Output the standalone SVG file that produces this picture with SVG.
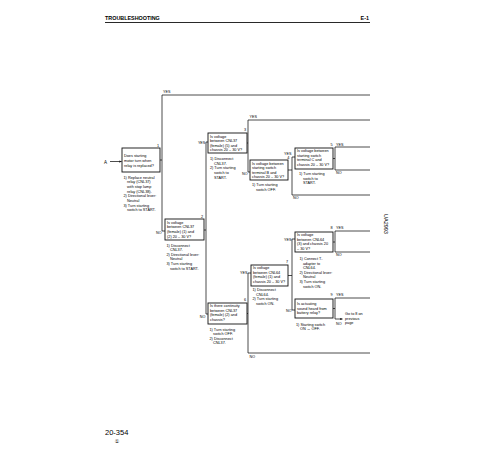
<svg xmlns="http://www.w3.org/2000/svg" width="500" height="450" viewBox="0 0 500 450">
<defs>
<marker id="ah" viewBox="0 0 6 6" refX="6" refY="3" markerWidth="3" markerHeight="3" orient="auto"><path d="M0,0 L6,3 L0,6 z" fill="#111"/></marker>
<style>
.box{fill:#fff;stroke:#111;stroke-width:0.9}
.ln{fill:none;stroke:#111;stroke-width:0.75}
text{font-family:"Liberation Sans",Arial,sans-serif;fill:#000}
.t{font-size:3.8px}
.l{font-size:3.7px}
.e{text-anchor:end}
.h{font-size:5.4px;font-weight:bold}
</style>
</defs>
<rect width="500" height="450" fill="#fff"/>
<g id="header">
<text class="h" x="105" y="20">TROUBLESHOOTING</text>
<text class="h e" x="369" y="20">E-1</text>
<line x1="105" y1="22.5" x2="370" y2="22.5" stroke="#111" stroke-width="0.9"/>
</g>
<g id="connectors" class="ln">
<line x1="110" y1="161.5" x2="121.6" y2="161.5" marker-end="url(#ah)"/>
<path d="M160,160 H162 M162,95 V231 M162,95 H370 M162,231 H165"/>
<path d="M204,230 H206 M206,142 V314 M206,142 H208 M206,314 H208"/>
<path d="M247,143 H248 M248,120 V172 M248,120 H370 M248,172 H250"/>
<path d="M288,170 H292 M292,157 V195 M292,157 H295 M292,195 H370"/>
<path d="M333,158.5 H335 M335,147 V170 M335,147 H370 M335,170 H370"/>
<path d="M247,313.5 H248 M248,273 V353 M248,273 H251 M248,353 H370"/>
<path d="M288,275.5 H292 M292,239 V310 M292,239 H295 M292,310 H295"/>
<path d="M333,242 H335 M335,231 V252 M335,231 H370 M335,252 H370"/>
<path d="M333,308.5 H335 M335,298 V319 M335,298 H370"/>
<line x1="335" y1="319" x2="342.5" y2="319" marker-end="url(#ah)"/>
</g>
<g id="labels">
<text class="l" x="163" y="93">YES</text>
<text class="l e" x="161.5" y="234">NO</text>
<text class="l e" x="205.3" y="143.5">YES</text>
<text class="l e" x="205.3" y="318">NO</text>
<text class="l" x="249.5" y="118">YES</text>
<text class="l e" x="247.5" y="174.5">NO</text>
<text class="l e" x="291.5" y="154.5">YES</text>
<text class="l" x="293" y="199">NO</text>
<text class="l" x="336" y="145.5">YES</text>
<text class="l" x="336" y="174">NO</text>
<text class="l e" x="247.5" y="274.3">YES</text>
<text class="l" x="249.5" y="357.5">NO</text>
<text class="l e" x="291.5" y="240.5">YES</text>
<text class="l e" x="291.5" y="311.5">NO</text>
<text class="l" x="336" y="228.5">YES</text>
<text class="l" x="336" y="256">NO</text>
<text class="l" x="336" y="295.5">YES</text>
<text class="l" x="336" y="324.5">NO</text>
</g>
<g id="start">
<text x="104" y="163.5" font-size="4.5">A</text>
</g>
<g id="n1">
<rect class="box" x="122" y="148" width="38" height="24"/>
<text class="t" x="157" y="146.5">1</text>
<text class="t" x="124" y="157">Does starting</text>
<text class="t" x="124" y="162">motor turn when</text>
<text class="t" x="124" y="167">relay is replaced?</text>
<text class="t" x="123.5" y="178.5">1) Replace neutral</text>
<text class="t" x="127" y="183.2">relay (CNL37)</text>
<text class="t" x="127" y="187.9">with stop lamp</text>
<text class="t" x="127" y="192.6">relay (CNL38).</text>
<text class="t" x="123.5" y="197.3">2) Directional lever:</text>
<text class="t" x="127" y="202">Neutral</text>
<text class="t" x="123.5" y="206.7">3) Turn starting</text>
<text class="t" x="127" y="211.4">switch to START.</text>
</g>
<g id="n2">
<rect class="box" x="165" y="219" width="39" height="21"/>
<text class="t" x="201" y="217.5">2</text>
<text class="t" x="167" y="223.8">Is voltage</text>
<text class="t" x="167" y="228.4">between CNL37</text>
<text class="t" x="167" y="233">(female) (1) and</text>
<text class="t" x="167" y="237.6">(2) 20 – 30 V?</text>
<text class="t" x="166.5" y="246.5">1) Disconnect</text>
<text class="t" x="170" y="251.1">CNL37.</text>
<text class="t" x="166.5" y="255.7">2) Directional lever:</text>
<text class="t" x="170" y="260.3">Neutral</text>
<text class="t" x="166.5" y="264.9">3) Turn starting</text>
<text class="t" x="170" y="269.5">switch to START.</text>
</g>
<g id="n3">
<rect class="box" x="208" y="133" width="39" height="20"/>
<text class="t" x="244" y="131">3</text>
<text class="t" x="210" y="137.5">Is voltage</text>
<text class="t" x="210" y="142">between CNL37</text>
<text class="t" x="210" y="146.5">(female) (5) and</text>
<text class="t" x="210" y="151">chassis 20 – 30 V?</text>
<text class="t" x="210" y="160">1) Disconnect</text>
<text class="t" x="214" y="164.7">CNL37.</text>
<text class="t" x="210" y="169.4">2) Turn starting</text>
<text class="t" x="214" y="174.1">switch to</text>
<text class="t" x="214" y="178.8">START.</text>
</g>
<g id="n4">
<rect class="box" x="250" y="160" width="38" height="20"/>
<text class="t" x="287.3" y="159.2">4</text>
<text class="t" x="252" y="164.5">Is voltage between</text>
<text class="t" x="252" y="169">starting switch</text>
<text class="t" x="252" y="173.5">terminal B and</text>
<text class="t" x="252" y="178">chassis 20 – 30 V?</text>
<text class="t" x="252" y="186">1) Turn starting</text>
<text class="t" x="256" y="190.5">switch OFF.</text>
</g>
<g id="n5">
<rect class="box" x="295" y="148" width="38" height="21"/>
<text class="t" x="330.5" y="145.5">5</text>
<text class="t" x="297" y="152.3">Is voltage between</text>
<text class="t" x="297" y="156.8">starting switch</text>
<text class="t" x="297" y="161.3">terminal C and</text>
<text class="t" x="297" y="165.8">chassis 20 – 30 V?</text>
<text class="t" x="299" y="175">1) Turn starting</text>
<text class="t" x="303" y="179.5">switch to</text>
<text class="t" x="303" y="184">START.</text>
</g>
<g id="n6">
<rect class="box" x="208" y="303" width="39" height="21"/>
<text class="t" x="244" y="301">6</text>
<text class="t" x="210" y="307.3">Is there continuity</text>
<text class="t" x="210" y="311.8">between CNL37</text>
<text class="t" x="210" y="316.3">(female) (2) and</text>
<text class="t" x="210" y="320.8">chassis?</text>
<text class="t" x="209.5" y="330.5">1) Turn starting</text>
<text class="t" x="213" y="335">switch OFF.</text>
<text class="t" x="209.5" y="339.5">2) Disconnect</text>
<text class="t" x="213" y="344">CNL37.</text>
</g>
<g id="n7">
<rect class="box" x="251" y="265" width="37" height="21"/>
<text class="t" x="286" y="263">7</text>
<text class="t" x="253" y="269.3">Is voltage</text>
<text class="t" x="253" y="273.8">between CNL64</text>
<text class="t" x="253" y="278.3">(female) (1) and</text>
<text class="t" x="253" y="282.8">chassis 20 – 30 V?</text>
<text class="t" x="252.5" y="291">1) Disconnect</text>
<text class="t" x="256" y="295.5">CNL64.</text>
<text class="t" x="252.5" y="300">2) Turn starting</text>
<text class="t" x="256" y="304.5">switch ON.</text>
</g>
<g id="n8">
<rect class="box" x="295" y="232" width="38" height="20"/>
<text class="t" x="330.5" y="228.5">8</text>
<text class="t" x="297" y="236.3">Is voltage</text>
<text class="t" x="297" y="240.8">between CNL64</text>
<text class="t" x="297" y="245.3">(3) and chassis 20</text>
<text class="t" x="297" y="249.8">– 30 V?</text>
<text class="t" x="299.5" y="260">1) Connect T-</text>
<text class="t" x="303" y="264.6">adapter to</text>
<text class="t" x="303" y="269.2">CNL64.</text>
<text class="t" x="299.5" y="273.8">2) Directional lever:</text>
<text class="t" x="303" y="278.4">Neutral</text>
<text class="t" x="299.5" y="283">3) Turn starting</text>
<text class="t" x="303" y="287.6">switch ON.</text>
</g>
<g id="n9">
<rect class="box" x="295" y="299" width="38" height="19"/>
<text class="t" x="330.5" y="295.5">9</text>
<text class="t" x="297" y="305">Is actuating</text>
<text class="t" x="297" y="309.5">sound heard from</text>
<text class="t" x="297" y="314">battery relay?</text>
<text class="t" x="296" y="325.5">1) Starting switch</text>
<text class="t" x="300" y="330">ON ↔ OFF.</text>
</g>
<g id="goto">
<text class="t" x="345" y="315.3">Go to 8 on</text>
<text class="t" x="345" y="319.8">previous</text>
<text class="t" x="345" y="324.3">page</text>
</g>
<g id="figcode">
<text x="384" y="214" font-size="5.5" transform="rotate(90 384 214)">UA2993</text>
</g>
<g id="footer">
<text x="105" y="435" font-size="7.5">20-354</text>
<text x="117" y="443" font-size="5" text-anchor="middle" style="font-family:'DejaVu Sans','Noto Sans CJK JP',sans-serif">①</text>
</g>
</svg>
